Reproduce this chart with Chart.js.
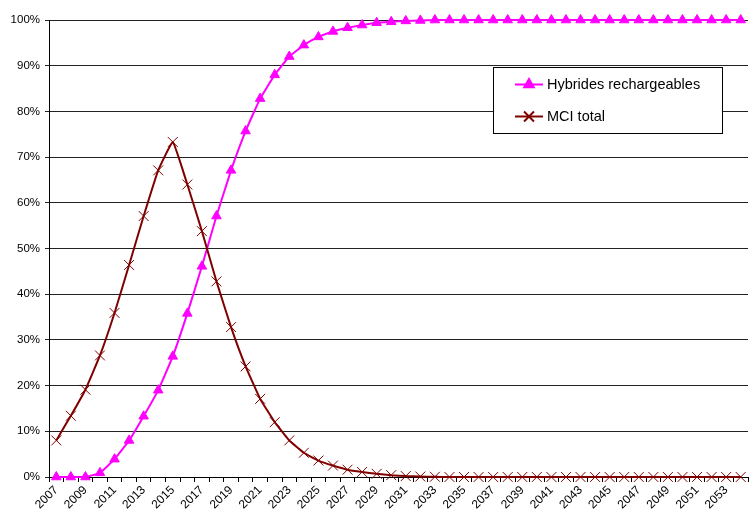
<!DOCTYPE html>
<html>
<head>
<meta charset="utf-8">
<script src="https://cdn.jsdelivr.net/npm/chart.js@4/dist/chart.umd.min.js"></script>
<style>
  html, body { margin: 0; padding: 0; background: #fff; overflow: hidden; }
  #wrap { position: relative; width: 756px; height: 514px; }
</style>
</head>
<body>
<div id="wrap"><canvas id="chart"></canvas></div>
<script>
// Années (catégories)
const years = [];
for (let y = 2007; y <= 2054; y++) years.push(String(y));

// Part des hybrides rechargeables (%)
const hybrides = [0, 0, 0, 0.9, 3.9, 8.0, 13.3, 19.0, 26.4, 35.8, 46.1, 57.1, 67.1, 75.7,
  82.8, 88.0, 92.0, 94.5, 96.3, 97.5, 98.3, 98.9, 99.4, 99.6, 99.8, 99.9,
  100, 100, 100, 100, 100, 100, 100, 100, 100, 100, 100, 100, 100, 100, 100, 100,
  100, 100, 100, 100, 100, 100];

// Part MCI total (%)
const mciTotal = [8.0, 13.4, 19.1, 26.6, 35.9, 46.4, 57.1, 67.1, 73.3, 64.0, 53.8, 42.8,
  32.8, 24.2, 17.1, 12.0, 8.0, 5.3, 3.6, 2.5, 1.6, 1.1, 0.7, 0.4, 0.2, 0.1, 0.05,
  0, 0, 0, 0, 0, 0, 0, 0, 0, 0, 0, 0, 0, 0, 0, 0, 0, 0, 0, 0, 0];

const yTicks = [0, 10, 20, 30, 40, 50, 60, 70, 80, 90, 100];

const FONT = 'Arial, "Liberation Sans", sans-serif';

// Légende encadrée dans la zone de tracé
const boxLegend = {
    id: 'boxLegend',
    afterDraw(chart) {
        const ctx = chart.ctx;
        const x = 493.5, y = 67.5, w = 229, h = 66;
        ctx.save();
        ctx.fillStyle = '#fff';
        ctx.fillRect(x, y, w, h);
        ctx.strokeStyle = '#000';
        ctx.lineWidth = 1;
        ctx.strokeRect(x, y, w, h);
        const rows = [84.5, 116.5];
        chart.data.datasets.forEach(function(ds, i) {
            const ly = rows[i];
            ctx.strokeStyle = ds.borderColor;
            ctx.lineWidth = 2;
            ctx.beginPath();
            ctx.moveTo(515, ly);
            ctx.lineTo(543, ly);
            ctx.stroke();
            ctx.fillStyle = ds.pointBackgroundColor;
            ctx.strokeStyle = ds.pointBorderColor;
            Chart.helpers.drawPoint(ctx, {
                pointStyle: ds.pointStyle,
                radius: ds.pointRadius,
                rotation: 0,
                borderWidth: ds.pointBorderWidth
            }, 529, ly);
            ctx.fillStyle = '#000';
            ctx.font = '14.5px ' + FONT;
            ctx.textBaseline = 'middle';
            ctx.textAlign = 'left';
            ctx.fillText(ds.label, 547, ly);
        });
        ctx.restore();
    }
};

const chart = new Chart(document.getElementById('chart'), {
    type: 'line',
    data: {
        labels: years,
        datasets: [{
            label: 'Hybrides rechargeables',
            data: hybrides,
            borderColor: '#ff00ff',
            backgroundColor: '#ff00ff',
            borderWidth: 2,
            pointStyle: 'triangle',
            pointRadius: 5.5,
            pointBackgroundColor: '#ff00ff',
            pointBorderColor: '#ff00ff',
            pointBorderWidth: 1,
            tension: 0.1,
            clip: false,
            order: 1
        }, {
            label: 'MCI total',
            data: mciTotal,
            borderColor: '#800000',
            backgroundColor: '#800000',
            borderWidth: 2,
            pointStyle: 'crossRot',
            pointRadius: 7,
            pointBackgroundColor: '#800000',
            pointBorderColor: '#800000',
            pointBorderWidth: 1,
            tension: 0.1,
            clip: false,
            order: 0
        }]
    },
    options: {
        responsive: true,
        maintainAspectRatio: false,
        animation: false,
        layout: { padding: { top: 20, left: 0, right: 0, bottom: 0 } },
        scales: {
            x: {
                offset: true,
                grid: {
                    offset: true,
                    drawOnChartArea: false,
                    drawTicks: true,
                    tickLength: 5,
                    color: '#000'
                },
                border: { color: '#000', width: 1 },
                ticks: {
                    autoSkip: false,
                    maxRotation: 45,
                    minRotation: 45,
                    padding: 1,
                    color: '#000',
                    font: { family: FONT, size: 12 },
                    callback: function(val, i) {
                        return i % 2 === 0 ? years[i] : '';
                    }
                },
                afterFit: function(scale) { scale.height = 37; }
            },
            y: {
                min: 0,
                max: 100,
                afterBuildTicks: function(scale) {
                    scale.ticks = yTicks.map(function(v) { return { value: v }; });
                },
                grid: {
                    color: '#222',
                    lineWidth: 1,
                    tickLength: 4
                },
                border: { color: '#000', width: 1 },
                ticks: {
                    padding: 5,
                    color: '#000',
                    font: { family: FONT, size: 11.5 },
                    callback: function(v) { return v + '%'; }
                },
                afterFit: function(scale) { scale.width = 49; }
            }
        },
        plugins: {
            legend: { display: false },
            tooltip: { enabled: false }
        }
    },
    plugins: [boxLegend]
});
</script>
</body>
</html>
